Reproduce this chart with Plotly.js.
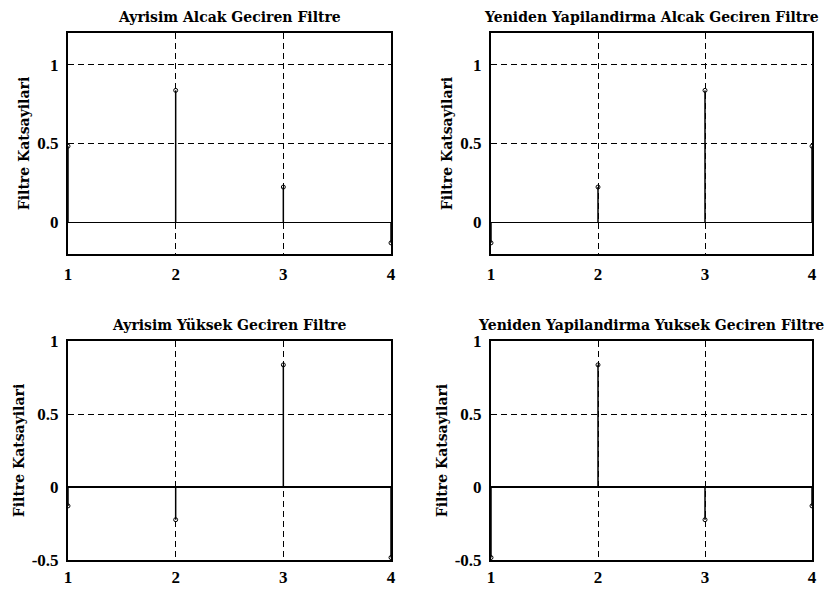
<!DOCTYPE html>
<html>
<head>
<meta charset="utf-8">
<script src="https://cdn.plot.ly/plotly-3.0.1.min.js"></script>
<style>html,body{margin:0;padding:0;background:#fff;}#chart{width:837px;height:590px;}</style>
</head>
<body>
<div id="chart"></div>
<script>
// Data (db2 wavelet filter coefficients)
const sampleIndex = [1, 2, 3, 4];
const decompLow  = [0.4830, 0.8365, 0.2241, -0.1294];
const reconLow   = [-0.1294, 0.2241, 0.8365, 0.4830];
const decompHigh = [-0.1294, -0.2241, 0.8365, -0.4830];
const reconHigh  = [-0.4830, 0.8365, -0.2241, -0.1294];
const titles = [
  "Ayrisim Alcak Geciren Filtre",
  "Yeniden Yapilandirma Alcak Geciren Filtre",
  "Ayrisim Yüksek Geciren Filtre",
  "Yeniden Yapilandirma Yuksek Geciren Filtre"
];
const yLabel = "Filtre Katsayilari";
const xTicks = [1, 2, 3, 4];
const yTicksTop = [0, 0.5, 1];
const yTicksBottom = [-0.5, 0, 0.5, 1];

const series = [decompLow, reconLow, decompHigh, reconHigh];
const FONT = "DejaVu Serif, serif";
const TFONT = "Liberation Serif, Times New Roman, serif";
const traces = [];
series.forEach((vals, i) => {
  const xa = i === 0 ? 'x' : 'x' + (i + 1);
  const ya = i === 0 ? 'y' : 'y' + (i + 1);
  const sx = [], sy = [];
  sampleIndex.forEach((xv, k) => { sx.push(xv, xv, null); sy.push(0, vals[k], null); });
  traces.push({x: sx, y: sy, xaxis: xa, yaxis: ya, mode: 'lines', type: 'scatter',
    line: {color: '#000', width: 1.5}, hoverinfo: 'skip', showlegend: false, cliponaxis: true});
  traces.push({x: sampleIndex, y: vals, xaxis: xa, yaxis: ya, mode: 'markers', type: 'scatter',
    marker: {symbol: 'circle-open', size: 4, color: '#000', line: {width: 1}}, showlegend: false, cliponaxis: true});
});

const W = 837, H = 590;
const xd = [[68 / W, 391 / W], [491 / W, 812 / W]];
const yd = [[1 - 254 / H, 1 - 33 / H], [1 - 560 / H, 1 - 341 / H]];

const layout = {
  width: W, height: H,
  margin: {l: 0, r: 0, t: 0, b: 0},
  paper_bgcolor: '#fff', plot_bgcolor: '#fff',
  font: {family: FONT, color: '#000', size: 14},
  showlegend: false,
  annotations: []
};
for (let i = 0; i < 4; i++) {
  const col = i % 2, row = Math.floor(i / 2);
  const suf = i === 0 ? '' : String(i + 1);
  layout['xaxis' + suf] = {
    domain: xd[col], anchor: 'y' + suf, range: [1, 4],
    tickvals: xTicks, ticktext: xTicks.map(String),
    showgrid: true, gridcolor: '#000', griddash: '6px,4px', gridwidth: 1,
    showline: true, mirror: true, linecolor: '#000', linewidth: 2,
    zeroline: false, ticks: '', fixedrange: true, ticklabelstandoff: row === 0 ? 4 : 1,
    tickfont: {family: TFONT, size: 17, color: '#000', weight: 'bold'}
  };
  const yt = row === 0 ? yTicksTop : yTicksBottom;
  layout['yaxis' + suf] = {
    domain: yd[row], anchor: 'x' + suf,
    range: row === 0 ? [-0.2, 1.2] : [-0.5, 1],
    tickvals: yt, ticktext: yt.map(String),
    showgrid: true, gridcolor: '#000', griddash: '6px,4px', gridwidth: 1,
    zeroline: true, zerolinecolor: '#000', zerolinewidth: 1.5,
    showline: true, mirror: true, linecolor: '#000', linewidth: 2,
    ticks: '', fixedrange: true, ticklabelstandoff: 4,
    tickfont: {family: TFONT, size: 17, color: '#000', weight: 'bold'},
    title: {text: yLabel, standoff: 4, font: {family: FONT, size: 14, color: '#000', weight: 'bold'}}
  };
  layout.annotations.push({
    text: titles[i], xref: 'paper', yref: 'paper',
    x: (xd[col][0] + xd[col][1]) / 2, y: yd[row][1], yanchor: 'bottom', xanchor: 'center',
    yshift: 6, showarrow: false,
    font: {family: FONT, size: 14, color: '#000', weight: 'bold'}
  });
}
Plotly.newPlot('chart', traces, layout, {staticPlot: true, displayModeBar: false});
</script>
</body>
</html>
